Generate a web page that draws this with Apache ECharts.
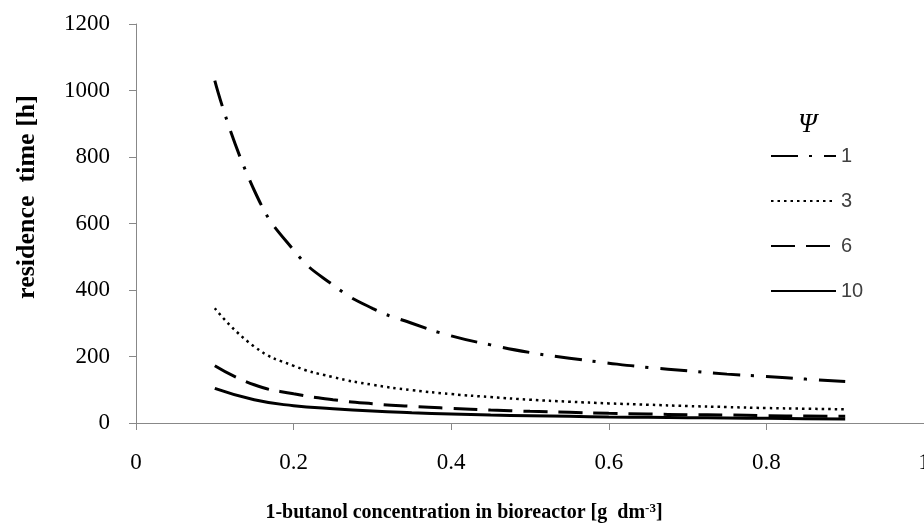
<!DOCTYPE html>
<html>
<head>
<meta charset="utf-8">
<script src="https://cdn.jsdelivr.net/npm/echarts@6/dist/echarts.min.js"></script>
<style>
    html, body { margin: 0; padding: 0; background: #fff; }
    #chart { width: 924px; height: 524px; }
</style>
</head>
<body>
<div id="chart"></div>
<script>
// 横轴：丁醇浓度
let xValues = [0.1, 0.15, 0.2, 0.25, 0.3, 0.35, 0.4, 0.45, 0.5, 0.55, 0.6, 0.65, 0.7, 0.75, 0.8, 0.85, 0.9];
// 各 Ψ 值的停留时间
let psi1 = [1030, 700, 520, 415, 345, 300, 262, 235, 212, 195, 180, 167, 157, 147, 140, 132, 125];
let psi3 = [345, 230, 172, 138, 115, 99, 87, 78, 70, 64, 59, 55, 51, 48, 45, 43, 41];
let psi6 = [172, 115, 88, 70, 58, 50, 44, 39, 35, 32, 29, 27, 25, 24, 22, 21, 20];
let psi10 = [104, 70, 52, 43, 36, 31, 27, 24, 22, 20, 18, 17, 16, 15, 14, 13, 12];
let seriesNames = ['1', '3', '6', '10'];
let xTicks = ['0', '0.2', '0.4', '0.6', '0.8', '1'];

function pairs(ys) {
    let list = [];
    for (let i = 0; i < xValues.length; i++) {
        list.push([xValues[i], ys[i]]);
    }
    return list;
}

let serif = '"Liberation Serif", "DejaVu Serif", serif';

//线型：点划线、点线、虚线、实线
let lineTypes = [[27, 11, 3, 12], [2.5, 4], [24, 11], 'solid'];
let widths = [3, 2.5, 3, 3];
let dataList = [psi1, psi3, psi6, psi10];
let series = [];
for (let i = 0; i < dataList.length; i++) {
    series.push({
        name: seriesNames[i],
        type: 'line',
        smooth: true,
        symbol: 'none',
        data: pairs(dataList[i]),
        lineStyle: { color: '#000', width: widths[i], type: lineTypes[i] },
        itemStyle: { color: '#000' }
    });
}

let option = {
    animation: false,
    backgroundColor: '#fff',
    title: {
        text: 'Ψ',
        left: 793,
        top: 106,
        textStyle: { fontFamily: serif, fontStyle: 'italic', fontWeight: 'normal', fontSize: 27, color: '#000' }
    },
    legend: {
        orient: 'vertical',
        left: 765,
        top: 141,
        itemWidth: 65,
        itemHeight: 20,
        itemGap: 25,
        itemStyle: { opacity: 0 },
        data: seriesNames,
        textStyle: { fontFamily: '"Liberation Sans", sans-serif', fontSize: 20, color: '#404040' }
    },
    grid: { left: 136, right: 0, top: 24, bottom: 101, outerBoundsMode: 'none' },
    xAxis: {
        type: 'value',
        min: 0,
        max: 1,
        interval: 0.2,
        name: '1-butanol concentration in bioreactor [g  dm{sup|-3}]',
        nameLocation: 'middle',
        nameGap: 79,
        nameTextStyle: {
            fontFamily: serif, fontWeight: 'bold', fontSize: 20, color: '#000',
            padding: [0, 132, 0, 0],
            rich: { sup: { fontFamily: serif, fontWeight: 'bold', fontSize: 13, color: '#000', verticalAlign: 'top', padding: [0, 0, 9, 0] } }
        },
        axisLine: { show: true, lineStyle: { color: '#888', width: 1 } },
        axisTick: { show: true, inside: false, length: 7, lineStyle: { color: '#888' } },
        splitLine: { show: false },
        axisLabel: {
            margin: 28,
            fontFamily: serif, fontSize: 23, color: '#000',
            formatter: function (v) {
                let idx = Math.round(v / 0.2);
                return xTicks[idx];
            }
        }
    },
    yAxis: {
        type: 'value',
        min: 0,
        max: 1200,
        interval: 200,
        name: 'residence  time [h]',
        nameLocation: 'middle',
        nameGap: 96,
        nameTextStyle: {
            fontFamily: serif, fontWeight: 'bold', fontSize: 26, color: '#000',
            padding: [0, 0, 0, 53]
        },
        axisLine: { show: true, lineStyle: { color: '#888', width: 1 } },
        axisTick: { show: true, inside: false, length: 7, lineStyle: { color: '#888' } },
        splitLine: { show: false },
        axisLabel: {
            margin: 26, fontFamily: serif, fontSize: 23, color: '#000',
            formatter: function (v) { return String(v); }
        }
    },
    series: series
};

let myChart = echarts.init(document.getElementById('chart'));
myChart.setOption(option);
</script>
</body>
</html>
